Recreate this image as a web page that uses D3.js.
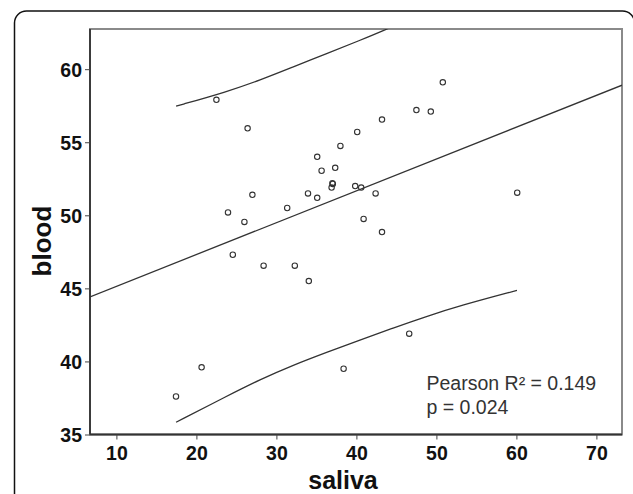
<!DOCTYPE html>
<html>
<head>
<meta charset="utf-8">
<script src="https://cdn.jsdelivr.net/npm/d3@7"></script>
<style>
  html, body { margin: 0; padding: 0; background: #fff; }
  svg { display: block; }
  .tick text { font-family: "Liberation Sans", Arial, sans-serif; font-weight: bold; font-size: 19.5px; fill: #111; }
</style>
</head>
<body>
<svg id="chart" width="633" height="494"></svg>
<script>
// ---- data ----
const salivaValues = [22.5, 26.4, 50.8, 47.5, 49.3, 43.2, 40.1, 38.0, 35.1, 35.65, 37.35, 37.0, 36.9, 39.85, 40.6, 42.4, 27.0, 33.95, 35.1, 31.35, 23.95, 26.0, 40.9, 43.2, 24.55, 28.4, 32.3, 34.05, 60.1, 46.6, 20.65, 38.4, 17.45, 37.05];
const bloodValues  = [57.9, 55.95, 59.1, 57.2, 57.1, 56.55, 55.7, 54.75, 54.0, 53.05, 53.25, 52.2, 51.9, 52.0, 51.9, 51.5, 51.4, 51.5, 51.2, 50.5, 50.2, 49.55, 49.75, 48.85, 47.3, 46.55, 46.55, 45.5, 51.55, 41.9, 39.6, 39.5, 37.6, 52.15];

// fitted line: blood = intercept + slope * saliva
const fitIntercept = 42.96;
const fitSlope = 0.2178;

// upper and lower prediction-interval curves
const upperX = [17.46, 23.79, 27.96, 32.11, 36.28, 40.44, 43.77, 45.0];
const upperY = [57.47, 58.45, 59.25, 60.16, 61.07, 61.97, 62.73, 63.05];
const lowerX = [17.46, 23.79, 27.95, 32.11, 36.28, 40.44, 44.59, 48.76, 52.92, 60.07];
const lowerY = [35.84, 37.62, 38.76, 39.75, 40.62, 41.47, 42.29, 43.08, 43.81, 44.86];

const xTicks = [10, 20, 30, 40, 50, 60, 70];
const yTicks = [35, 40, 45, 50, 55, 60];
const xDomain = [6.7, 73.2];
const yDomain = [35, 62.75];
const statsLines = ["Pearson R\u00B2 = 0.149", "p = 0.024"];

// ---- layout ----
const svg = d3.select("#chart");
const plot = { left: 90, right: 622, top: 29, bottom: 434.5 };

const x = d3.scaleLinear().domain(xDomain).range([plot.left, plot.right]);
const y = d3.scaleLinear().domain(yDomain).range([plot.bottom, plot.top]);

// outer rounded panel border
svg.append("rect")
  .attr("x", 14.5).attr("y", 11)
  .attr("width", 620).attr("height", 520)
  .attr("rx", 12).attr("ry", 12)
  .attr("fill", "none").attr("stroke", "#111").attr("stroke-width", 1.5);

svg.append("defs").append("clipPath").attr("id", "clip")
  .append("rect")
  .attr("x", plot.left).attr("y", plot.top)
  .attr("width", plot.right - plot.left).attr("height", plot.bottom - plot.top);

// plot frame (top & right gray)
svg.append("rect")
  .attr("x", plot.left).attr("y", plot.top)
  .attr("width", plot.right - plot.left).attr("height", plot.bottom - plot.top)
  .attr("fill", "none").attr("stroke", "#8a8a8a").attr("stroke-width", 2);

const g = svg.append("g").attr("clip-path", "url(#clip)");

// fit line
g.append("line")
  .attr("x1", x(xDomain[0])).attr("y1", y(fitIntercept + fitSlope * xDomain[0]))
  .attr("x2", x(xDomain[1])).attr("y2", y(fitIntercept + fitSlope * xDomain[1]))
  .attr("stroke", "#333").attr("stroke-width", 1.3);

const curve = d3.line().x(d => x(d[0])).y(d => y(d[1])).curve(d3.curveBasis);
g.append("path").datum(upperX.map((v, i) => [v, upperY[i]]))
  .attr("d", curve).attr("fill", "none").attr("stroke", "#333").attr("stroke-width", 1.3);
g.append("path").datum(lowerX.map((v, i) => [v, lowerY[i]]))
  .attr("d", curve).attr("fill", "none").attr("stroke", "#333").attr("stroke-width", 1.3);

// points
g.selectAll("circle.pt").data(salivaValues.map((v, i) => [v, bloodValues[i]]))
  .enter().append("circle").attr("class", "pt")
  .attr("cx", d => x(d[0])).attr("cy", d => y(d[1]))
  .attr("r", 2.7)
  .attr("fill", "none").attr("stroke", "#333").attr("stroke-width", 1.1);

// axes
const xAxis = d3.axisBottom(x).tickValues(xTicks).tickSize(5).tickPadding(4).tickFormat(d3.format("d"));
const yAxis = d3.axisLeft(y).tickValues(yTicks).tickSize(5).tickPadding(3).tickFormat(d3.format("d"));

const gx = svg.append("g").attr("transform", `translate(0,${plot.bottom})`).call(xAxis);
const gy = svg.append("g").attr("transform", `translate(${plot.left},0)`).call(yAxis);
[gx, gy].forEach(a => {
  a.select(".domain").attr("stroke", "#333").attr("stroke-width", 1.8);
  a.selectAll(".tick line").attr("stroke", "#444").attr("stroke-width", 1);
});
gx.select(".domain").attr("d", `M${plot.left},0H${plot.right}`);
gy.select(".domain").attr("d", `M0,${plot.bottom}V${plot.top}`);
gx.selectAll(".tick text").attr("dy", "0.85em");
gy.selectAll(".tick text").attr("dy", "0.36em");

// axis titles
svg.append("text")
  .attr("x", 343).attr("y", 489)
  .attr("text-anchor", "middle")
  .style("font-family", "'Liberation Sans', Arial, sans-serif")
  .style("font-weight", "bold").style("font-size", "25px").style("fill", "#111")
  .text("saliva");

svg.append("text")
  .attr("transform", "translate(51,241) rotate(-90)")
  .attr("text-anchor", "middle")
  .style("font-family", "'Liberation Sans', Arial, sans-serif")
  .style("font-weight", "bold").style("font-size", "26px").style("fill", "#111")
  .text("blood");

// stats annotation
svg.append("g").selectAll("text").data(statsLines).enter().append("text")
  .attr("x", 426.5).attr("y", (d, i) => 389.5 + i * 24)
  .style("font-family", "'Liberation Sans', Arial, sans-serif")
  .style("font-size", "19.5px").style("fill", "#333")
  .text(d => d);
</script>
</body>
</html>
